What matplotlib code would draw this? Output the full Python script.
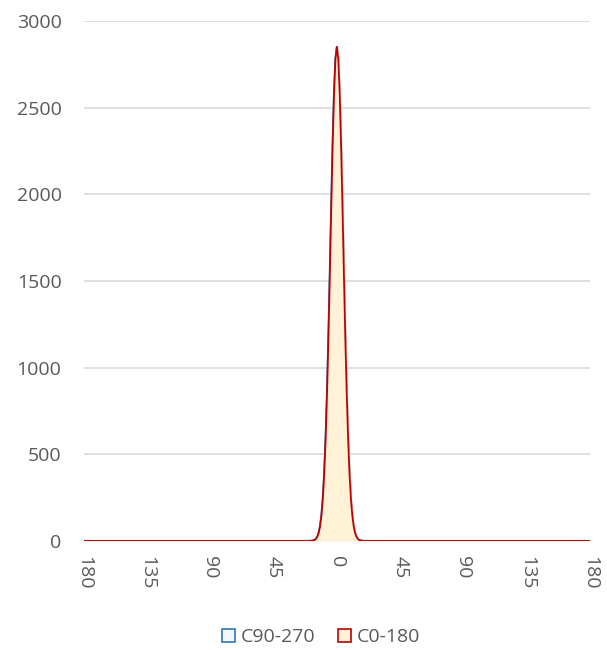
import matplotlib
matplotlib.use("Agg")
import matplotlib.pyplot as plt
from matplotlib.patches import Patch

# Data (angle in degrees, counts)
angles = [-180, -90, -30, -20, -18, -17, -16, -15, -14, -13, -12, -11, -10, -9, -8, -7, -6, -5, -4, -3, -2, -1,
          0, 1, 2, 3, 4, 5, 6, 7, 8, 9, 10, 11, 12, 13, 14, 15, 16, 17, 18, 20, 30, 90, 180]
c0_180 = [0, 0, 0, 0, 1, 2, 5, 11, 23, 44, 82, 144, 241, 386, 587, 850, 1172, 1537, 1920, 2282, 2582, 2780,
          2850, 2780, 2582, 2282, 1920, 1537, 1172, 850, 587, 386, 241, 144, 82, 44, 23, 11, 5, 2, 1, 0, 0, 0, 0]
c90_270 = c0_180[:]
tick_pos = [-180, -135, -90, -45, 0, 45, 90, 135, 180]
tick_labels = ["180", "135", "90", "45", "0", "45", "90", "135", "180"]
y_ticks = [0, 500, 1000, 1500, 2000, 2500, 3000]

plt.rcParams['font.family'] = ['Open Sans', 'DejaVu Sans']
txt = '#595959'

fig = plt.figure(figsize=(6.07, 6.5), dpi=100)
ax = fig.add_axes([0.138, 0.1677, 0.834, 0.80])

ax.fill_between(angles, c90_270, color='#eef3fa', zorder=2)
ax.plot(angles, c90_270, color='#2e75b6', lw=1.6, zorder=3)
ax.fill_between(angles, c0_180, color='#fff2d6', zorder=4)
ax.plot(angles, c0_180, color='#c00000', lw=1.3, zorder=5)

ax.set_xlim(-180, 180)
ax.set_ylim(0, 3000)
ax.set_yticks(y_ticks)
ax.set_xticks(tick_pos)
ax.set_xticklabels(tick_labels, rotation=-90, va='top', ha='center')
ax.tick_params(axis='both', length=0, labelsize=14, colors=txt)
ax.tick_params(axis='x', pad=11)
ax.tick_params(axis='y', pad=16)
ax.grid(axis='y', color='#d9d9d9', lw=1.2, zorder=0)
for s in ax.spines.values():
    s.set_visible(False)

handles = [Patch(facecolor='#f3f7fc', edgecolor='#2e75b6', lw=1.2, label='C90-270'),
           Patch(facecolor='#fff2d6', edgecolor='#c00000', lw=1.2, label='C0-180')]
fig.legend(handles=handles, loc='center', bbox_to_anchor=(0.529, 0.02), ncol=2, frameon=False,
           fontsize=14, labelcolor=txt, handlelength=0.65, handleheight=0.65, handletextpad=0.3,
           columnspacing=1.2)

fig.savefig('out.png', dpi=100)
